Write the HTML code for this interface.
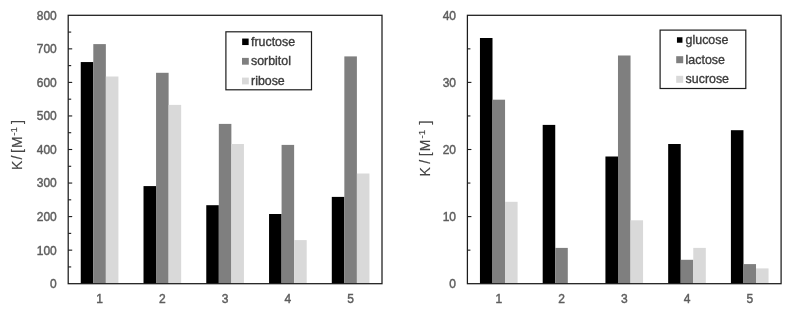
<!DOCTYPE html>
<html><head><meta charset="utf-8"><title>K / [M-1] bar charts</title>
<style>
html,body{margin:0;padding:0;background:#fff;}
body{width:794px;height:312px;overflow:hidden;}
svg{display:block;font-family:"Liberation Sans",Arial,sans-serif;}
.t{font-size:12px;fill:#5c5c5c;stroke:#5c5c5c;stroke-width:0.42px;}
.lg{font-size:12.4px;fill:#3a3a3a;stroke:#3a3a3a;stroke-width:0.35px;}
.yl{font-size:14px;fill:#444;stroke:#444;stroke-width:0.15px;}
</style></head><body>
<svg width="794" height="312" viewBox="0 0 794 312">
<rect width="794" height="312" fill="#fff"/>
<defs><filter id="soft" x="0" y="0" width="100%" height="100%" filterUnits="userSpaceOnUse"><feGaussianBlur stdDeviation="0.45"/></filter></defs>
<g filter="url(#soft)">
<rect width="794" height="312" fill="#fff"/>
<rect x="80.75" y="62.05" width="12.55" height="221.65" fill="#000000"/>
<rect x="93.30" y="44.10" width="12.55" height="239.60" fill="#7f7f7f"/>
<rect x="105.86" y="76.50" width="12.55" height="207.20" fill="#d9d9d9"/>
<rect x="143.51" y="186.10" width="12.55" height="97.60" fill="#000000"/>
<rect x="156.06" y="72.80" width="12.55" height="210.90" fill="#7f7f7f"/>
<rect x="168.62" y="104.90" width="12.55" height="178.80" fill="#d9d9d9"/>
<rect x="206.27" y="205.20" width="12.55" height="78.50" fill="#000000"/>
<rect x="218.82" y="123.90" width="12.55" height="159.80" fill="#7f7f7f"/>
<rect x="231.38" y="144.00" width="12.55" height="139.70" fill="#d9d9d9"/>
<rect x="269.03" y="214.00" width="12.55" height="69.70" fill="#000000"/>
<rect x="281.58" y="144.90" width="12.55" height="138.80" fill="#7f7f7f"/>
<rect x="294.14" y="240.10" width="12.55" height="43.60" fill="#d9d9d9"/>
<rect x="331.79" y="196.90" width="12.55" height="86.80" fill="#000000"/>
<rect x="344.34" y="56.40" width="12.55" height="227.30" fill="#7f7f7f"/>
<rect x="356.90" y="173.50" width="12.55" height="110.20" fill="#d9d9d9"/>
<rect x="68.20" y="15.30" width="313.80" height="268.40" fill="none" stroke="#1c1c1c" stroke-width="1.25"/>
<text class="t" x="56.80" y="288.05" text-anchor="end">0</text>
<line x1="68.20" y1="266.93" x2="71.20" y2="266.93" stroke="#1c1c1c" stroke-width="1.1"/>
<line x1="68.20" y1="250.15" x2="72.20" y2="250.15" stroke="#1c1c1c" stroke-width="1.1"/>
<text class="t" x="56.80" y="254.50" text-anchor="end">100</text>
<line x1="68.20" y1="233.38" x2="71.20" y2="233.38" stroke="#1c1c1c" stroke-width="1.1"/>
<line x1="68.20" y1="216.60" x2="72.20" y2="216.60" stroke="#1c1c1c" stroke-width="1.1"/>
<text class="t" x="56.80" y="220.95" text-anchor="end">200</text>
<line x1="68.20" y1="199.82" x2="71.20" y2="199.82" stroke="#1c1c1c" stroke-width="1.1"/>
<line x1="68.20" y1="183.05" x2="72.20" y2="183.05" stroke="#1c1c1c" stroke-width="1.1"/>
<text class="t" x="56.80" y="187.40" text-anchor="end">300</text>
<line x1="68.20" y1="166.28" x2="71.20" y2="166.28" stroke="#1c1c1c" stroke-width="1.1"/>
<line x1="68.20" y1="149.50" x2="72.20" y2="149.50" stroke="#1c1c1c" stroke-width="1.1"/>
<text class="t" x="56.80" y="153.85" text-anchor="end">400</text>
<line x1="68.20" y1="132.72" x2="71.20" y2="132.72" stroke="#1c1c1c" stroke-width="1.1"/>
<line x1="68.20" y1="115.95" x2="72.20" y2="115.95" stroke="#1c1c1c" stroke-width="1.1"/>
<text class="t" x="56.80" y="120.30" text-anchor="end">500</text>
<line x1="68.20" y1="99.18" x2="71.20" y2="99.18" stroke="#1c1c1c" stroke-width="1.1"/>
<line x1="68.20" y1="82.40" x2="72.20" y2="82.40" stroke="#1c1c1c" stroke-width="1.1"/>
<text class="t" x="56.80" y="86.75" text-anchor="end">600</text>
<line x1="68.20" y1="65.62" x2="71.20" y2="65.62" stroke="#1c1c1c" stroke-width="1.1"/>
<line x1="68.20" y1="48.85" x2="72.20" y2="48.85" stroke="#1c1c1c" stroke-width="1.1"/>
<text class="t" x="56.80" y="53.20" text-anchor="end">700</text>
<line x1="68.20" y1="32.08" x2="71.20" y2="32.08" stroke="#1c1c1c" stroke-width="1.1"/>
<text class="t" x="56.80" y="19.65" text-anchor="end">800</text>
<text class="t" x="99.58" y="302.7" text-anchor="middle">1</text>
<text class="t" x="162.34" y="302.7" text-anchor="middle">2</text>
<text class="t" x="225.10" y="302.7" text-anchor="middle">3</text>
<text class="t" x="287.86" y="302.7" text-anchor="middle">4</text>
<text class="t" x="350.62" y="302.7" text-anchor="middle">5</text>
<text class="yl" transform="translate(21.5,169.0) rotate(-90)"><tspan x="-1.00" y="0">K </tspan><tspan x="9.50" y="0">/ </tspan><tspan x="16.10" y="0">[</tspan><tspan x="21.00" y="0">M</tspan><tspan x="33.20" y="-4.6" font-size="9.8">-1</tspan><tspan x="45.00" y="0">]</tspan></text>
<rect x="225.9" y="31.8" width="85.6" height="58.0" fill="#fff" stroke="#1c1c1c" stroke-width="1.2"/>
<rect x="242.15" y="38.55" width="6.5" height="6.5" fill="#000000"/>
<text class="lg" x="251.0" y="45.9">fructose</text>
<rect x="242.00" y="57.90" width="6.8" height="6.8" fill="#7f7f7f"/>
<text class="lg" x="251.0" y="65.4">sorbitol</text>
<rect x="242.00" y="77.60" width="6.8" height="6.8" fill="#d9d9d9"/>
<text class="lg" x="251.0" y="85.1">ribose</text>
<rect x="479.95" y="38.00" width="12.55" height="245.70" fill="#000000"/>
<rect x="492.50" y="99.70" width="12.55" height="184.00" fill="#7f7f7f"/>
<rect x="505.04" y="201.80" width="12.55" height="81.90" fill="#d9d9d9"/>
<rect x="542.69" y="124.90" width="12.55" height="158.80" fill="#000000"/>
<rect x="555.24" y="247.90" width="12.55" height="35.80" fill="#7f7f7f"/>
<rect x="605.43" y="156.50" width="12.55" height="127.20" fill="#000000"/>
<rect x="617.98" y="55.50" width="12.55" height="228.20" fill="#7f7f7f"/>
<rect x="630.52" y="220.30" width="12.55" height="63.40" fill="#d9d9d9"/>
<rect x="668.17" y="144.00" width="12.55" height="139.70" fill="#000000"/>
<rect x="680.72" y="259.80" width="12.55" height="23.90" fill="#7f7f7f"/>
<rect x="693.26" y="247.90" width="12.55" height="35.80" fill="#d9d9d9"/>
<rect x="730.91" y="130.20" width="12.55" height="153.50" fill="#000000"/>
<rect x="743.46" y="264.10" width="12.55" height="19.60" fill="#7f7f7f"/>
<rect x="756.00" y="268.40" width="12.55" height="15.30" fill="#d9d9d9"/>
<rect x="467.40" y="15.30" width="313.70" height="268.40" fill="none" stroke="#1c1c1c" stroke-width="1.25"/>
<text class="t" x="456.00" y="288.05" text-anchor="end">0</text>
<line x1="467.40" y1="250.15" x2="470.40" y2="250.15" stroke="#1c1c1c" stroke-width="1.1"/>
<line x1="467.40" y1="216.60" x2="471.40" y2="216.60" stroke="#1c1c1c" stroke-width="1.1"/>
<text class="t" x="456.00" y="220.95" text-anchor="end">10</text>
<line x1="467.40" y1="183.05" x2="470.40" y2="183.05" stroke="#1c1c1c" stroke-width="1.1"/>
<line x1="467.40" y1="149.50" x2="471.40" y2="149.50" stroke="#1c1c1c" stroke-width="1.1"/>
<text class="t" x="456.00" y="153.85" text-anchor="end">20</text>
<line x1="467.40" y1="115.95" x2="470.40" y2="115.95" stroke="#1c1c1c" stroke-width="1.1"/>
<line x1="467.40" y1="82.40" x2="471.40" y2="82.40" stroke="#1c1c1c" stroke-width="1.1"/>
<text class="t" x="456.00" y="86.75" text-anchor="end">30</text>
<line x1="467.40" y1="48.85" x2="470.40" y2="48.85" stroke="#1c1c1c" stroke-width="1.1"/>
<text class="t" x="456.00" y="19.65" text-anchor="end">40</text>
<text class="t" x="498.77" y="302.7" text-anchor="middle">1</text>
<text class="t" x="561.51" y="302.7" text-anchor="middle">2</text>
<text class="t" x="624.25" y="302.7" text-anchor="middle">3</text>
<text class="t" x="686.99" y="302.7" text-anchor="middle">4</text>
<text class="t" x="749.73" y="302.7" text-anchor="middle">5</text>
<text class="yl" transform="translate(429.8,175.4) rotate(-90)"><tspan x="-1.00" y="0">K </tspan><tspan x="11.60" y="0">/ </tspan><tspan x="19.10" y="0">[</tspan><tspan x="24.20" y="0">M</tspan><tspan x="37.00" y="-4.6" font-size="9.8">-1</tspan><tspan x="51.00" y="0">]</tspan></text>
<rect x="660.1" y="30.1" width="85.7" height="58.4" fill="#fff" stroke="#1c1c1c" stroke-width="1.2"/>
<rect x="676.95" y="37.25" width="5.5" height="5.5" fill="#000000"/>
<text class="lg" x="685.6" y="44.1">glucose</text>
<rect x="676.20" y="56.20" width="7.0" height="7.0" fill="#7f7f7f"/>
<text class="lg" x="685.6" y="63.8">lactose</text>
<rect x="676.20" y="75.80" width="7.0" height="7.0" fill="#d9d9d9"/>
<text class="lg" x="685.6" y="83.4">sucrose</text>
</g>
</svg>
</body></html>
